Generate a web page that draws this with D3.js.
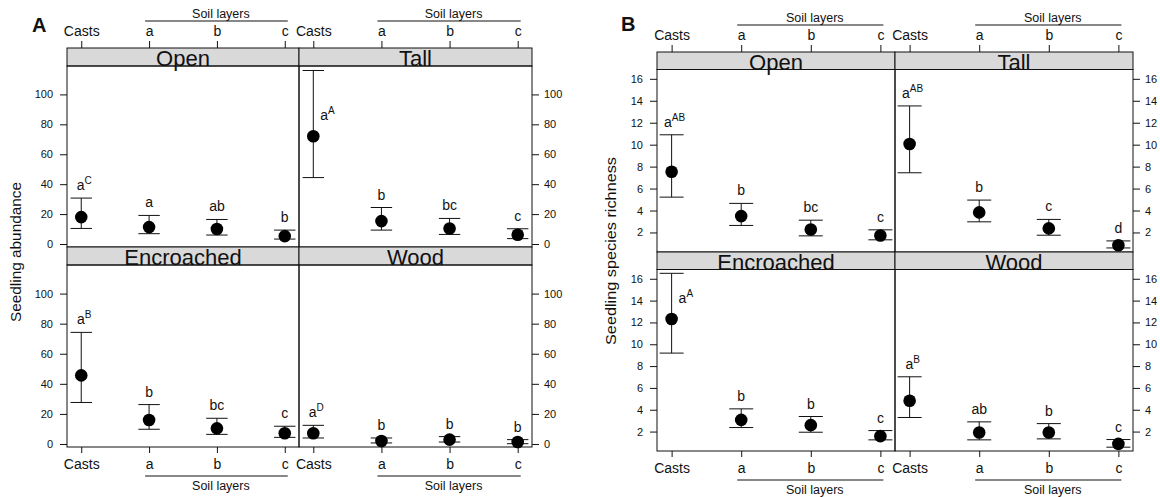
<!DOCTYPE html>
<html><head><meta charset="utf-8">
<script src="https://cdn.jsdelivr.net/npm/d3@7"></script>
<style>
body{margin:0;background:#fff}
svg{display:block;font-family:"Liberation Sans",Arial,Helvetica,sans-serif}
</style>
</head><body><svg id="c" width="1160" height="497"></svg>
<script>
// ---------- data ----------
const categories = ["Casts", "a", "b", "c"];
const habitats = ["Open", "Tall", "Encroached", "Wood"];
const abundTicks = [0, 20, 40, 60, 80, 100];
const richTicks = [2, 4, 6, 8, 10, 12, 14, 16];

const abundMean  = [[18, 11.3, 10, 5.3], [72, 15.3, 10.4, 6.2], [45.6, 16, 10.4, 7.1], [7.1, 2, 2.9, 1.3]];
const abundUpper = [[30.7, 19.1, 16.4, 9.3], [116, 24.4, 17.1, 10.2], [74.2, 26.2, 17.1, 11.8], [12.4, 4, 4.9, 2.9]];
const abundLower = [[10.4, 6.9, 6, 3.3], [44.4, 9.3, 6.4, 3.6], [27.6, 9.8, 6.4, 4.4], [4, 0.7, 1.3, 0.2]];
const abundLetters = [["a", "a", "ab", "b"], ["a", "b", "bc", "c"], ["a", "b", "bc", "c"], ["a", "b", "b", "b"]];
const abundSup = ["C", "A", "B", "D"];

const richMean  = [[7.53, 3.49, 2.27, 1.72], [10.06, 3.83, 2.37, 0.84], [12.31, 3.07, 2.59, 1.58], [4.82, 1.91, 1.91, 0.87]];
const richUpper = [[10.9, 4.65, 3.12, 2.24], [13.53, 4.95, 3.19, 1.23], [16.5, 4.08, 3.38, 2.09], [7.02, 2.89, 2.73, 1.27]];
const richLower = [[5.22, 2.64, 1.69, 1.33], [7.44, 2.97, 1.75, 0.59], [9.19, 2.37, 1.94, 1.24], [3.29, 1.24, 1.33, 0.57]];
const richLetters = [["a", "b", "bc", "c"], ["a", "b", "c", "d"], ["a", "b", "b", "c"], ["a", "ab", "b", "c"]];
const richSup = ["AB", "AB", "A", "B"];

// ---------- drawing ----------
const svg = d3.select("#c");
const INK = "#111";

function drawFigure(cfg) {
  const g = svg.append("g");
  // panel letter
  g.append("text").attr("x", cfg.letterX).attr("y", cfg.letterY)
    .attr("font-size", 20).attr("font-weight", "bold").attr("fill", INK).text(cfg.letter);
  // y label
  g.append("text")
    .attr("transform", `translate(${cfg.yLabelX},${cfg.yLabelY}) rotate(-90)`)
    .attr("text-anchor", "middle").attr("font-size", 14).attr("fill", INK)
    .attr("textLength", cfg.yLabelLen).attr("lengthAdjust", "spacingAndGlyphs")
    .text(cfg.yLabel);

  habitats.forEach((hab, i) => {
    const col = i % 2, row = Math.floor(i / 2);
    const left = col ? cfg.xm : cfg.x0;
    const right = col ? cfg.x1 : cfg.xm;
    const top = cfg.rows[row], bottom = cfg.rows[row + 1];
    const plotTop = top + cfg.stripH;
    const x = d3.scalePoint().domain(categories).range([left, right]).padding(0.21);
    const y = d3.scaleLinear().domain(cfg.yDomain).range([bottom, plotTop]);
    const pg = g.append("g");

    // strip + frame
    pg.append("rect").attr("x", left).attr("y", top).attr("width", right - left).attr("height", cfg.stripH)
      .attr("fill", "#d9d9d9").attr("stroke", INK).attr("stroke-width", 1);
    pg.append("rect").attr("x", left).attr("y", plotTop).attr("width", right - left).attr("height", bottom - plotTop)
      .attr("fill", "none").attr("stroke", INK).attr("stroke-width", 1);

    // y axis (alternating)
    const yAx = col ? d3.axisRight(y).tickSize(7).tickPadding(5) : d3.axisLeft(y).tickSize(7).tickPadding(7);
    const ya = pg.append("g").attr("transform", `translate(${col ? right : left},0)`)
      .call(yAx.tickValues(cfg.ticks).tickFormat(d3.format("d")));
    ya.select(".domain").remove();
    ya.selectAll("line").attr("stroke", INK);
    ya.selectAll("text").attr("font-size", 11).attr("fill", INK).attr("font-family", null);

    // x axis: top row on top, bottom row on bottom
    if (row === 0) {
      const xa = pg.append("g").attr("transform", `translate(0,${top})`)
        .call(d3.axisTop(x).tickSize(7).tickPadding(5));
      xa.select(".domain").remove();
      xa.selectAll("line").attr("stroke", INK);
      xa.selectAll("text").attr("font-size", 14).attr("fill", INK).attr("font-family", null);
      const ly = top - 27;
      pg.append("line").attr("x1", x("a") - 4).attr("x2", x("c") + 3).attr("y1", ly).attr("y2", ly)
        .attr("stroke", INK);
      pg.append("text").attr("x", (x("a") + x("c")) / 2 + 4).attr("y", ly - 3)
        .attr("text-anchor", "middle").attr("font-size", 12.5).attr("fill", INK).text("Soil layers");
    } else {
      const xa = pg.append("g").attr("transform", `translate(0,${bottom})`)
        .call(d3.axisBottom(x).tickSize(6).tickPadding(6));
      xa.select(".domain").remove();
      xa.selectAll("line").attr("stroke", INK);
      xa.selectAll("text").attr("font-size", 14).attr("fill", INK).attr("font-family", null);
      const ly = bottom + 29;
      pg.append("line").attr("x1", x("a") - 4).attr("x2", x("c") + 3).attr("y1", ly).attr("y2", ly)
        .attr("stroke", INK);
      pg.append("text").attr("x", (x("a") + x("c")) / 2 + 4).attr("y", ly + 14)
        .attr("text-anchor", "middle").attr("font-size", 12.5).attr("fill", INK).text("Soil layers");
    }

    // points with error bars
    categories.forEach((cat, j) => {
      const cx = x(cat);
      const yu = y(cfg.upper[i][j]), yl = y(cfg.lower[i][j]), ym = y(cfg.mean[i][j]);
      pg.append("line").attr("x1", cx).attr("x2", cx).attr("y1", yu).attr("y2", yl).attr("stroke", INK);
      [yu, yl].forEach(v => pg.append("line").attr("x1", cx - cfg.capHalf).attr("x2", cx + cfg.capHalf)
        .attr("y1", v).attr("y2", v).attr("stroke", INK));
      pg.append("circle").attr("cx", cx).attr("cy", ym).attr("r", 6.3).attr("fill", "#000");

      const sup = j === 0 ? cfg.sup[i] : null;
      const side = (yu - 22 < plotTop);
      const t = pg.append("text").attr("font-size", 14).attr("fill", INK);
      if (side) {
        t.attr("x", cx + 7).attr("y", ym - 16).attr("text-anchor", "start");
      } else {
        t.attr("x", cx + (sup ? 3 : 0)).attr("y", yu - 8).attr("text-anchor", "middle");
      }
      t.append("tspan").text(cfg.letters[i][j]);
      if (sup) t.append("tspan").attr("font-size", 10).attr("dy", -6).text(sup);
    });

    // strip title
    pg.append("text").attr("x", (left + right) / 2).attr("y", plotTop)
      .attr("text-anchor", "middle").attr("font-size", 22).attr("fill", INK).text(hab);
  });
}

drawFigure({
  letter: "A", letterX: 32, letterY: 32,
  yLabel: "Seedling abundance", yLabelX: 21, yLabelY: 252, yLabelLen: 140,
  x0: 67, xm: 299, x1: 532, rows: [48, 247, 447], stripH: 18,
  yDomain: [-2, 119], ticks: abundTicks, capHalf: 10.7,
  mean: abundMean, upper: abundUpper, lower: abundLower, letters: abundLetters, sup: abundSup
});

drawFigure({
  letter: "B", letterX: 621, letterY: 31,
  yLabel: "Seedling species richness", yLabelX: 616, yLabelY: 251, yLabelLen: 188,
  x0: 657, xm: 895, x1: 1133, rows: [52, 252, 451], stripH: 17.5,
  yDomain: [0.22, 16.85], ticks: richTicks, capHalf: 12,
  mean: richMean, upper: richUpper, lower: richLower, letters: richLetters, sup: richSup
});
</script>
</body></html>
